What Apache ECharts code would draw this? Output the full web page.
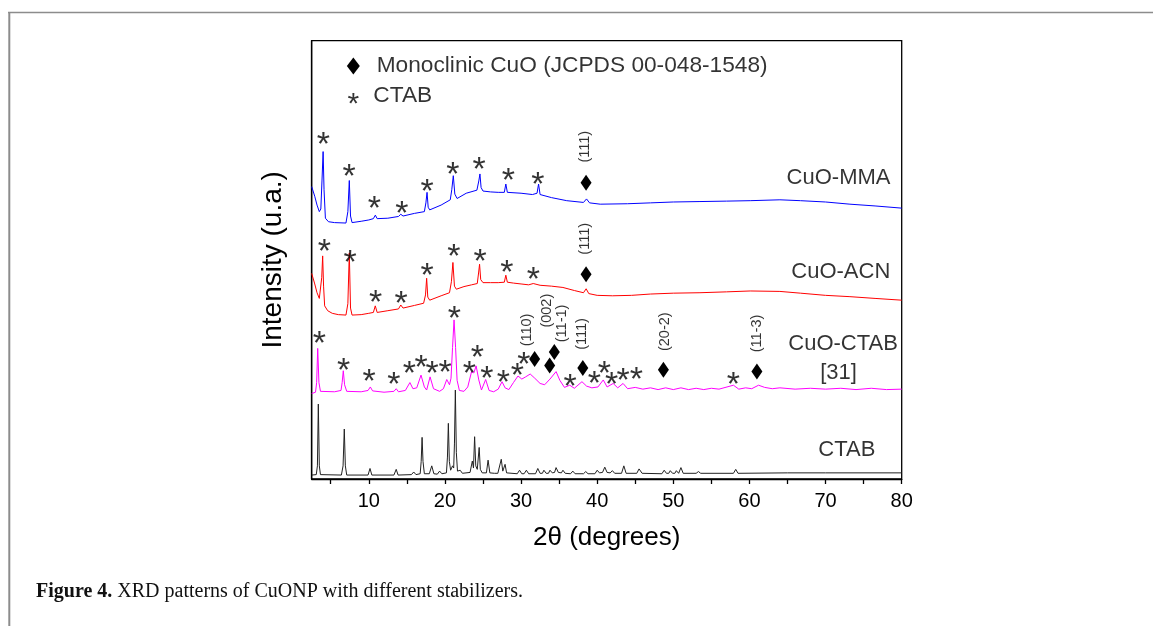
<!DOCTYPE html>
<html>
<head>
<meta charset="utf-8">
<script src="https://cdn.jsdelivr.net/npm/echarts@6/dist/echarts.min.js"></script>
<style>html,body{margin:0;padding:0;background:#fff;}#c{width:1153px;height:626px;}</style>
</head>
<body>
<div id="c"></div>
<script>
// ---------- data ----------
var xTicks = [5,10,15,20,25,30,35,40,45,50,55,60,65,70,75,80];
var xTickLabels = [10,20,30,40,50,60,70,80];

var ctab = [
[2.5,0.9],[3.1,1.0],[3.25,3],[3.37,17.1],[3.5,3],[3.65,1.0],
[6.4,0.9],[6.62,3],[6.78,11.4],[6.92,3],[7.1,0.9],
[9.9,0.9],[10.16,2.4],[10.4,0.9],
[13.3,0.9],[13.6,2.2],[13.85,0.9],
[15.6,1.0],[15.9,1.6],[16.2,1.0],
[16.75,1.2],[16.88,4],[17.0,9.5],[17.12,4],[17.3,1.2],
[17.95,1.2],[18.27,3.0],[18.55,1.2],
[19.0,1.1],[19.3,1.8],[19.6,1.2],
[20.2,1.4],[20.33,5],[20.45,12.7],[20.58,4],[20.75,2.0],[21.0,3.0],[21.15,2.5],[21.25,8],[21.37,20.3],[21.5,6],[21.65,1.8],[22.0,2.0],[22.3,1.3],
[23.3,1.5],[23.6,4.1],[23.75,2.5],[23.9,9.65],[24.05,3],[24.25,2.2],[24.5,7.2],[24.65,2.2],[24.9,1.4],
[25.45,1.4],[25.67,4.3],[25.9,1.4],
[26.5,1.3],[26.7,1.6],[26.95,1.3],
[27.2,1.4],[27.4,4.5],[27.6,1.8],[27.9,3.35],[28.1,1.4],
[29.5,1.2],[29.8,2.0],[30.1,1.2],[30.4,1.2],[30.7,2.0],[31.0,1.2],[31.9,1.2],[32.2,2.4],[32.5,1.3],[32.8,1.3],[33.0,2.0],[33.3,1.3],[33.6,1.3],[33.8,2.0],[34.1,1.4],[34.4,1.5],[34.6,2.6],[34.9,1.5],[35.3,1.4],[35.5,2.0],[35.8,1.3],[36.5,1.2],[36.8,1.8],[37.1,1.2],[38.2,1.2],[38.5,1.7],[38.8,1.2],[39.7,1.2],[40.0,2.0],[40.3,1.4],[40.7,1.5],[41.0,2.7],[41.3,1.5],[41.7,1.4],[42.0,1.9],[42.3,1.3],[43.2,1.3],[43.5,3.0],[43.8,1.3],[45.2,1.3],[45.5,2.3],[45.9,1.3],[48.5,1.2],[48.8,2.0],[49.1,1.3],[49.4,1.3],[49.6,1.9],[49.9,1.3],[50.2,1.3],[50.4,1.9],[50.7,1.3],[50.8,1.3],[51.0,2.6],[51.3,1.3],[53.0,1.3],[53.3,1.7],[53.6,1.3],[57.9,1.3],[58.2,2.2],[58.5,1.3],[65,1.4],[70,1.4],[80,1.4]
];

var cuoCtab = [
[2.5,19.5],[3.0,19.8],[3.15,22],[3.29,29.8],[3.45,22],[3.65,20.0],
[5.5,19.9],[6.35,20.2],[6.5,22],[6.65,24.7],[6.82,21.5],[7.1,20.0],
[9.0,19.9],[9.9,20.2],[10.2,21.0],[10.5,20.1],
[12,19.8],[13.3,20.0],[13.6,20.6],[13.9,19.9],
[14.8,20.2],[15.4,22.0],[15.8,20.6],[16.3,20.8],[16.86,23.7],[17.3,21.0],[17.6,20.3],[18.05,23.3],[18.5,20.6],[19.3,20.0],[19.8,20.6],[20.24,22.7],[20.6,21.5],[20.8,23],[21.0,30],[21.2,36.3],[21.4,30],[21.6,22.5],[21.9,20.2],[22.5,20.0],[23.0,21.0],[23.5,24.5],[23.8,24.2],[24.1,25.8],[24.45,22.6],[24.8,20.3],[25.35,22.7],[25.8,20.2],[26.4,19.9],[27.0,20.5],[27.5,22.2],[27.9,20.8],[28.4,20.4],[29.0,22.0],[29.6,23.5],[30.1,22.8],[30.6,23.3],[31.2,23.95],[31.8,23.0],[32.5,21.8],[33.1,21.5],[33.8,22.8],[34.6,24.5],[35.1,22.5],[35.7,20.9],[36.4,21.4],[37.0,20.7],[38.0,22.2],[38.6,21.2],[39.3,20.8],[40.1,21.0],[40.8,22.6],[41.3,21.0],[42.1,21.8],[42.7,20.8],[43.4,21.8],[44.0,20.6],[45.0,20.9],[46.0,20.5],[47.0,20.8],[48.0,20.4],[49.0,20.8],[50.0,20.4],[51.0,20.8],[52.0,20.4],[53.0,20.7],[54.0,20.4],[55.0,20.7],[56.0,20.5],[57.9,21.4],[58.6,20.5],[59.5,20.8],[60.3,20.6],[61.2,21.4],[62.0,20.9],[63.0,20.6],[64.0,20.8],[66.0,20.5],[68.0,20.7],[70.0,20.5],[72.0,20.7],[74.0,20.4],[76.0,20.7],[78.0,20.4],[80.0,20.5]
];

var cuoAcn = [
[2.5,46.9],[2.9,44.5],[3.2,42.5],[3.5,41.2],[3.7,41.5],[3.82,46],[3.94,50.9],[4.06,44],[4.2,39.5],[4.6,38.4],[5.2,37.8],[6.0,37.5],[7.0,37.4],[7.25,40],[7.44,51.6],[7.6,39],[7.8,37.4],[9.0,37.5],[10.0,37.8],[10.6,38.0],[10.85,39.5],[11.1,38.0],[12.5,38.4],[13.9,38.8],[14.2,39.7],[14.5,39.0],[16.0,39.6],[17.2,40.1],[17.45,42],[17.6,45.8],[17.75,41.5],[18.0,40.8],[19.5,41.8],[20.6,42.5],[20.85,45],[21.05,49.4],[21.25,44],[21.5,43.3],[22.5,43.9],[23.5,44.3],[24.25,44.6],[24.42,47],[24.55,49.0],[24.7,45.5],[25.0,44.8],[26.0,44.8],[27.0,44.8],[27.8,44.9],[28.0,46.5],[28.2,44.9],[29.0,44.7],[30.0,44.5],[31.0,44.3],[31.6,44.6],[32.5,44.2],[34.0,44.0],[35.5,43.7],[37.0,43.0],[38.2,42.5],[38.55,43.4],[38.9,42.3],[40.0,41.9],[42.0,41.8],[44.5,41.9],[47.0,42.2],[50.0,42.4],[53.5,42.5],[57.0,42.7],[60.1,42.9],[64.0,42.8],[66.7,42.4],[70.0,41.9],[73.2,41.6],[76.5,41.2],[80.0,40.8]
];

var cuoMma = [
[2.5,66.7],[2.9,64.5],[3.2,62.5],[3.5,61.0],[3.7,61.6],[3.85,68],[4.0,74.7],[4.12,66],[4.3,59.5],[4.7,58.7],[5.5,58.5],[7.0,58.4],[7.25,61],[7.44,68.1],[7.6,60],[7.8,58.5],[9.0,58.8],[10.0,59.1],[10.6,59.4],[10.86,60.2],[11.1,59.4],[12.5,59.5],[13.9,59.9],[14.2,60.4],[14.5,60.0],[16.0,60.6],[17.3,61.0],[17.5,63],[17.65,65.4],[17.8,62],[18.0,61.4],[19.5,62.5],[20.7,63.7],[20.9,66],[21.1,69.2],[21.3,65],[21.6,64.0],[22.8,65.2],[24.2,65.9],[24.45,68],[24.6,69.6],[24.75,66.5],[25.0,65.7],[26.0,65.5],[27.0,65.4],[27.8,65.4],[28.0,67.3],[28.2,65.4],[30.0,65.2],[31.5,64.9],[32.1,65.2],[32.3,67.3],[32.5,64.9],[34.0,64.2],[36.0,63.5],[38.2,63.1],[38.6,63.9],[39.0,63.0],[40.4,62.7],[44.0,62.8],[47.0,63.0],[50.0,63.2],[53.5,63.3],[57.0,63.4],[60.1,63.5],[64.0,63.7],[66.7,63.5],[70.0,63.2],[73.2,62.7],[76.5,62.3],[80.0,61.8]
];

// annotation positions (data coordinates)
var mmaStars = [[4.02,77.7],[7.4,70.5],[10.73,63.3],[14.33,62.0],[17.65,67.1],[21.03,71.0],[24.48,72.0],[28.33,69.7],[32.2,68.7]];
var acnStars = [[4.16,53.5],[7.53,50.9],[10.91,41.75],[14.23,41.6],[17.65,47.9],[21.16,52.2],[24.62,51.1],[28.12,48.7],[31.62,47.1]];
var ctabStars = [[3.5,32.3],[6.7,26.2],[10.03,23.7],[13.28,23.1],[15.33,25.6],[16.86,27.0],[18.31,25.6],[20.02,25.8],[21.23,38.1],[23.21,25.6],[24.25,29.2],[25.5,24.4],[27.68,23.6],[29.5,25.2],[30.37,27.7],[36.44,22.7],[39.62,23.3],[40.94,25.6],[41.9,23.0],[43.39,24.0],[45.14,24.1],[57.9,23.0]];
var cuoDiamonds = [[38.54,67.6],[38.54,46.7],[31.78,27.4],[33.76,25.9],[34.37,29.0],[38.11,25.3],[48.7,24.9],[60.98,24.5]];
var hklNames = ['(111)','(111)','(110)','(002)','(11-1)','(111)','(20-2)','(11-3)'];
var hklPos = [[38.45,75.8],[38.35,54.8],[30.79,34.0],[33.35,38.4],[35.39,35.5],[38.02,33.1],[48.93,33.6],[60.98,33.2]];
var seriesNames = ['CuO-MMA','CuO-ACN','CuO-CTAB','[31]','CTAB'];
var seriesNamePos = [[71.7,68.8],[72.0,47.3],[72.3,30.8],[71.7,24.3],[72.8,6.7]];
var legendTexts = ['Monoclinic CuO (JCPDS 00-048-1548)','CTAB'];
var legendTextPos = [[11.04,94.2],[10.6,87.5]];
var legendDiamondPos = [[7.97,94.2]];
var legendStarPos = [[7.97,86.9]];

// ---------- chart ----------
var FONT = '"Liberation Sans", Arial, sans-serif';
var chart = echarts.init(document.getElementById('c'), null, {renderer:'canvas'});

function lineSeries(name, data, color){
  return {type:'line', name:name, data:data, showSymbol:false, symbol:'none',
    lineStyle:{color:color, width:1}, silent:true, z:2};
}
function starSeries(data, fs){
  return {type:'scatter', data:data, symbolSize:1, itemStyle:{color:'transparent'}, silent:true, z:5,
    label:{show:true, position:'inside', formatter:'*', fontSize:fs, color:'#000', fontFamily:FONT, offset:[0, fs*0.225]}};
}
function textSeries(pos, names, opts){
  var d = pos.map(function(p,i){return {value:p, name:names[i]};});
  var lab = Object.assign({show:true, position:'inside', formatter:'{b}', color:'#000', fontFamily:FONT}, opts);
  return {type:'scatter', data:d, symbolSize:1, itemStyle:{color:'transparent'}, silent:true, z:5, label:lab};
}

var option = {
  animation:false,
  backgroundColor:'#fff',
  grid:{left:311.7, right:251.3, top:40.7, bottom:147, show:true, borderColor:'#000', borderWidth:1.3, backgroundColor:'transparent'},
  xAxis:{
    type:'value', min:2.5, max:80,
    axisLine:{show:true, onZero:false, lineStyle:{color:'#000', width:1.3}},
    axisTick:{show:true, customValues:xTicks, length:5, inside:false, lineStyle:{color:'#000', width:1.3}},
    axisLabel:{show:true, customValues:xTickLabels, fontSize:20, color:'#000', margin:12, fontFamily:FONT},
    splitLine:{show:false},
    name:'2θ (degrees)', nameLocation:'middle', nameGap:46,
    nameTextStyle:{fontSize:26, color:'#000', fontFamily:FONT}
  },
  yAxis:{
    type:'value', min:0, max:100,
    axisLine:{show:true, lineStyle:{color:'#000', width:1.3}},
    axisTick:{show:false}, axisLabel:{show:false}, splitLine:{show:false},
    name:'Intensity (u.a.)', nameLocation:'middle', nameGap:24,
    nameTextStyle:{fontSize:28, color:'#000', fontFamily:FONT}
  },
  series:[
    lineSeries('CTAB', ctab, '#222222'),
    lineSeries('CuO-CTAB', cuoCtab, '#ff00ff'),
    lineSeries('CuO-ACN', cuoAcn, '#ff0000'),
    lineSeries('CuO-MMA', cuoMma, '#0000ff'),
    starSeries(mmaStars, 34),
    starSeries(acnStars, 34),
    starSeries(ctabStars, 34),
    starSeries(legendStarPos, 30),
    {type:'scatter', data:cuoDiamonds, symbol:'diamond', symbolSize:[11,16], itemStyle:{color:'#000', opacity:1}, silent:true, z:5},
    {type:'scatter', data:legendDiamondPos, symbol:'diamond', symbolSize:[13,17], itemStyle:{color:'#000', opacity:1}, silent:true, z:5},
    textSeries(hklPos, hklNames, {fontSize:14.5, rotate:90, align:'center', verticalAlign:'middle'}),
    textSeries(seriesNamePos, seriesNames, {fontSize:22, align:'center', verticalAlign:'middle'}),
    textSeries(legendTextPos, legendTexts, {fontSize:22.7, align:'left', verticalAlign:'middle'})
  ],
  graphic:[
    {type:'line', shape:{x1:8, y1:12.5, x2:1153, y2:12.5}, style:{stroke:'#8c8c8c', lineWidth:1.6}, silent:true},
    {type:'line', shape:{x1:9.3, y1:12, x2:9.3, y2:626}, style:{stroke:'#8c8c8c', lineWidth:2}, silent:true},
    {type:'text', left:36, top:582, silent:true, style:{
      text:'{b|Figure 4.} XRD patterns of CuONP with different stabilizers.',
      fontSize:20, fontFamily:'"Liberation Serif", "Times New Roman", serif', fill:'#111',
      rich:{b:{fontWeight:'bold', fontSize:20, fontFamily:'"Liberation Serif", "Times New Roman", serif', fill:'#111'}}
    }}
  ]
};
chart.setOption(option);
</script>
</body>
</html>
